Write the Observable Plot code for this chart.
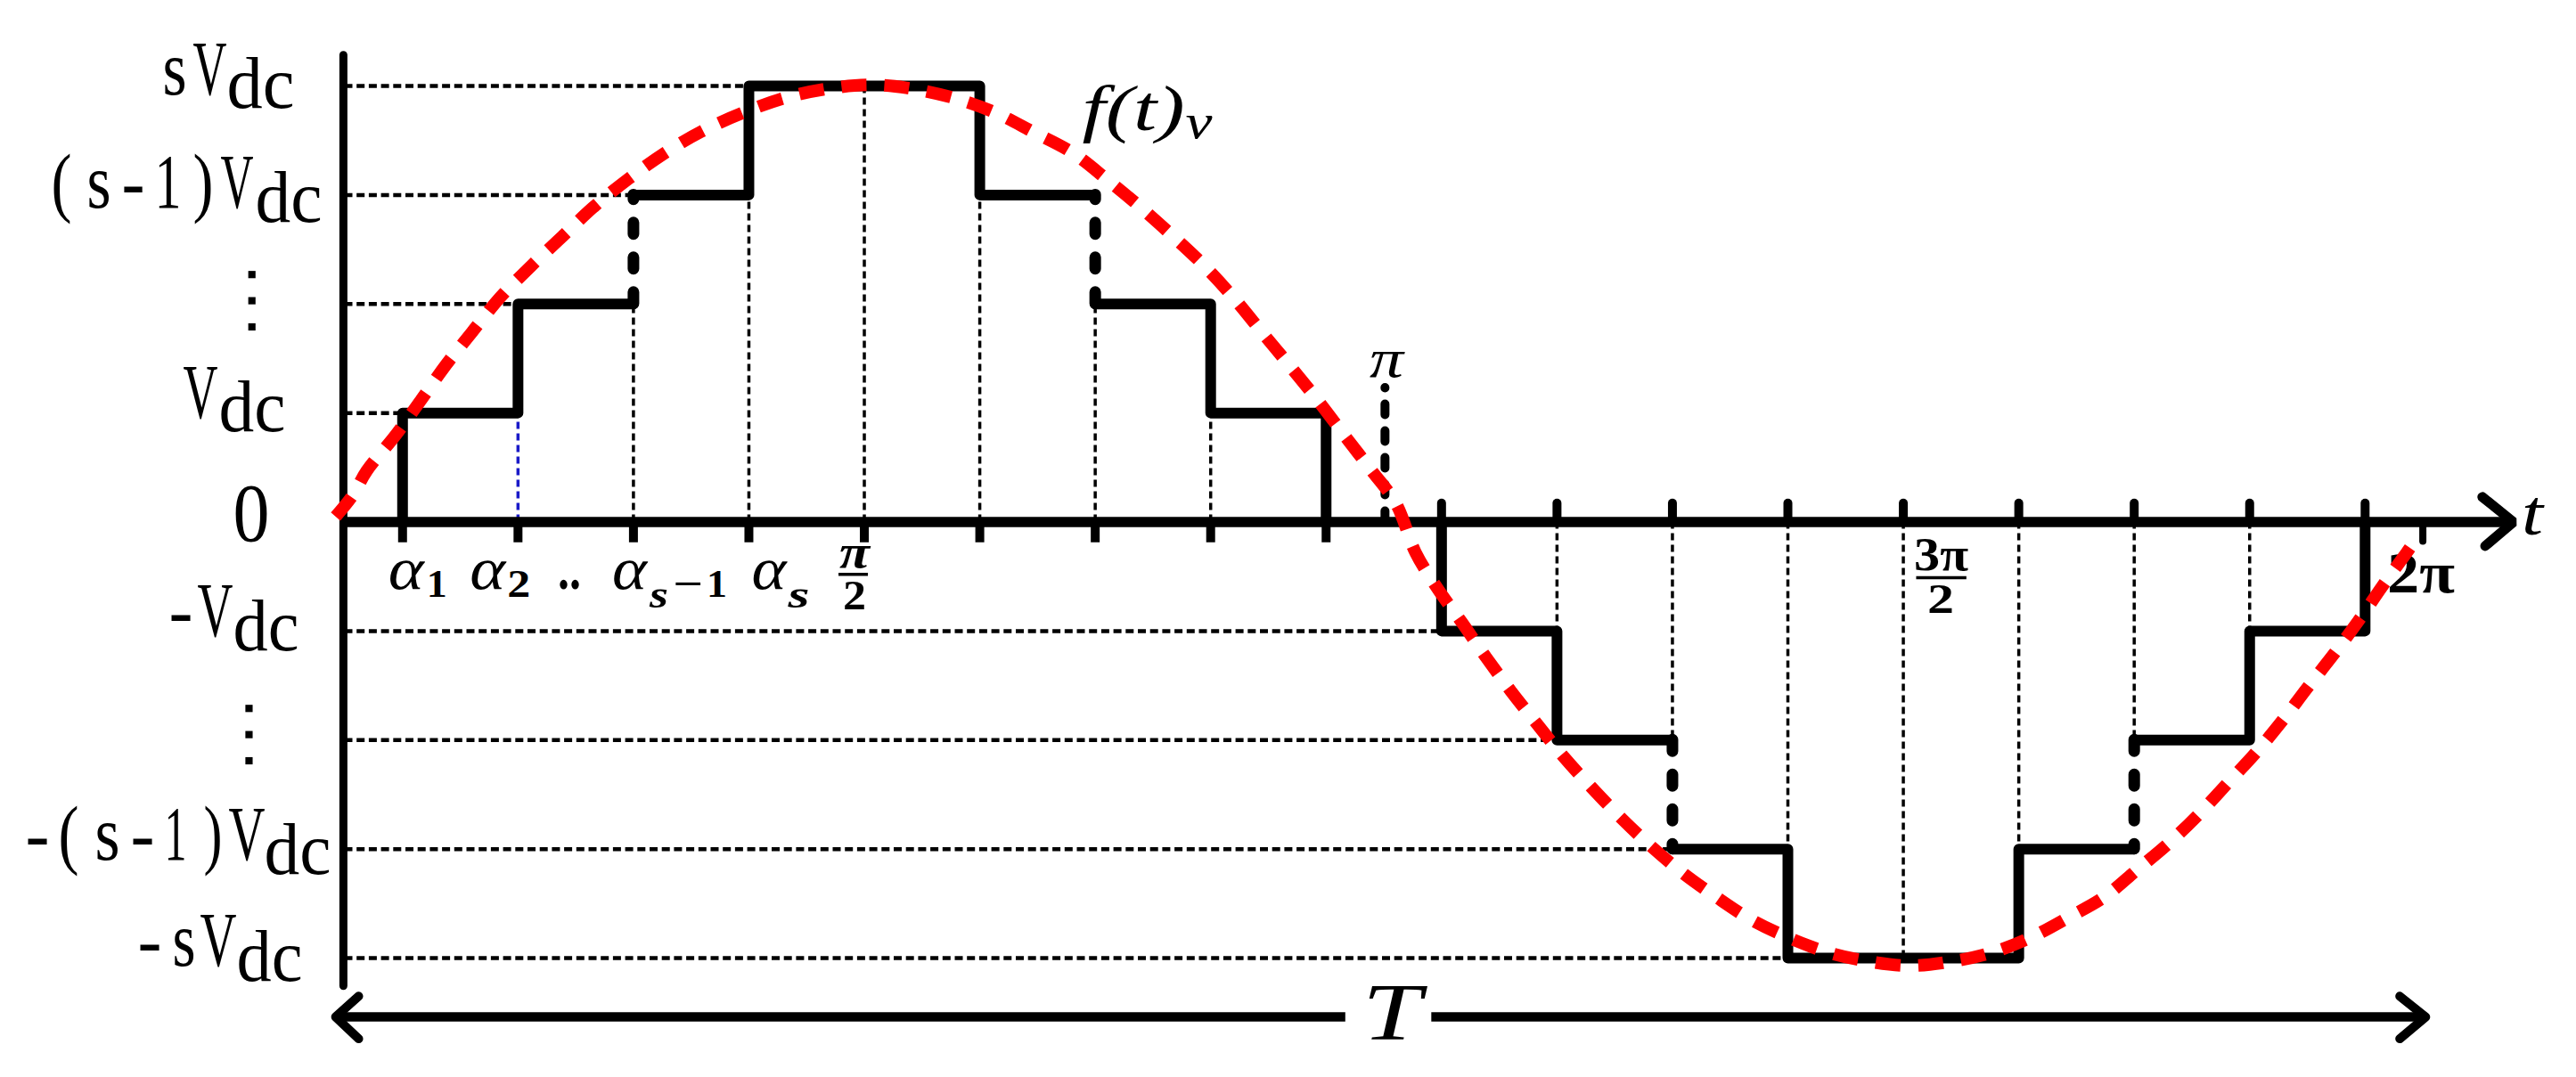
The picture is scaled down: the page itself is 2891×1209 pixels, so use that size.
<!DOCTYPE html>
<html>
<head>
<meta charset="utf-8">
<script src="https://cdn.jsdelivr.net/npm/d3@7"></script>
<script src="https://cdn.jsdelivr.net/npm/@observablehq/plot@0.6"></script>
<style>
html,body{margin:0;padding:0;background:#fff;overflow:hidden}
svg{display:block}
</style>
</head>
<body>
<div id="chart"></div>
<script>
// ---- data (t in degrees of the wave, v in units of Vdc) ----
const ticksBelow = [10,30,50,70,90,110,130,150,170];
const ticksAbove = [190,210,230,250,270,290,310,330,350];
const guideLevelsH = [4,3,2,1,-1,-2,-3,-4];
const guideEndsH = [70,50,30,10,190,210,230,250];
const guideT = [50,70,90,110,130,150,210,230,250,270,290,310,330];
const guideLevelV = [2,3,4,3,2,1,-1,-2,-3,-4,-3,-2,-1];
const stepSeg = [0,0,0,0,0, 1,1,1,1,1,1, 2,2,2,2,2, 3,3,3,3,3, 4,4,4,4,4,4, 5,5,5,5,5];
const stepT = [10,10,30,30,50, 50,70,70,110,110,130, 130,150,150,170,170, 190,190,210,210,230, 230,250,250,290,290,310, 310,330,330,350,350];
const stepV = [0,1,1,2,2, 3,3,4,4,3,3, 2,2,1,1,0, 0,-1,-1,-2,-2, -3,-3,-4,-4,-3,-3, -2,-2,-1,-1,0];
const dashedT = [50,130,230,310];
const dashedFrom = [2,2,-2,-2];
const dashedTo = [3,3,-3,-3];
const curveT = [-1.6,1.3,3.8,8.7,13.2,17.5,22,26.9,32.3,37.7,43.1,49.2,55.3,61.7,68.8,76.2,83.1,90.7,97.6,105.5,112.5,119.2,126,132.1,137.8,143.5,148.9,154.1,158.9,163.6,168.5,173.1,177.6,182.1,185.5,189.3,193.5,197.7,202,206.5,211.1,215.9,221,226.2,231.8,237.6,243.7,250,257.1,263.9,271.1,278.5,285.3,292.1,298.5,304.8,310.5,315.9,321.2,326.1,331,335.7,340,344.6,348.8,353.1,357.2,358.4];
const curveV = [0.05,0.24,0.47,0.79,1.12,1.44,1.74,2.06,2.35,2.62,2.89,3.15,3.38,3.58,3.75,3.89,3.97,4.01,3.98,3.89,3.76,3.58,3.39,3.14,2.89,2.62,2.35,2.05,1.74,1.44,1.12,0.8,0.49,0.17,-0.28,-0.61,-0.92,-1.24,-1.55,-1.85,-2.15,-2.43,-2.71,-2.97,-3.22,-3.44,-3.65,-3.81,-3.95,-4.03,-4.07,-4.03,-3.95,-3.81,-3.63,-3.44,-3.19,-2.95,-2.68,-2.4,-2.12,-1.82,-1.52,-1.21,-0.91,-0.58,-0.28,-0.19];
const arrowHeadT = [370.3,375.7,370.8];
const arrowHeadV = [0.23,0,-0.22];
const spanLeftT = [-1.6,173.4];
const spanRightT = [188.3,360.5];
const spanV = -4.54;
const spanHeadLeftT = [2.4,-1.6,2.4];
const spanHeadRightT = [356,360.5,356];
const spanHeadV = [-4.35,-4.54,-4.74];
const dotsUpV = [2.27,2.03,1.79];
const dotsDownV = [-1.71,-1.95,-2.19];

const SERIF = "Liberation Serif";
const table = (xs, ys) => xs.map((x,i)=>({x, y: ys[i]}));

// squeezes a text to a measured width
const fit = w => (index, scales, values, dims, ctx, next) => {
  const g = next(index, scales, values, dims, ctx);
  g.querySelectorAll("text").forEach(t => {
    t.setAttribute("textLength", w);
    t.setAttribute("lengthAdjust", "spacingAndGlyphs");
  });
  return g;
};
const base = (size, w, style, weight) => ({
  text: d => d, fontFamily: SERIF, fontSize: size, fontStyle: style || "normal",
  fontWeight: weight || 400, fill: "#000", textAnchor: "start", lineAnchor: "bottom",
  render: fit(w)
});
// label tied to a level of the y scale, left edge measured from the frame
const onLevel = (str, level, left, dy, size, w) =>
  Plot.text([str], {...base(size, w), y: () => level, frameAnchor: "left", dx: left, dy});
// label tied to a point of both scales
const atTick = (str, t, dx, dy, size, w, style, weight) =>
  Plot.text([str], {...base(size, w, style, weight), x: () => t, y: () => 0, dx, dy});

const F = 86, D = 82;
const labelMarks = [
  // sVdc
  onLevel("s",4,182,9,F,27), onLevel("V",4,216,9,F,38), onLevel("dc",4,254,24,D,76),
  // (s-1)Vdc
  onLevel("(",3,57,14,F,23), onLevel("s",3,97,14,F,27), onLevel("-",3,136,14,F,26),
  onLevel("1",3,173,14,F,30), onLevel(")",3,216,14,F,23),
  onLevel("V",3,247,14,F,37), onLevel("dc",3,286,30,D,75),
  // Vdc
  onLevel("V",1,205,5,F,39), onLevel("dc",1,245,20,D,75),
  // 0
  onLevel("0",0,261,21,93,41),
  // -Vdc
  onLevel("-",-1,189,6,F,27), onLevel("V",-1,221,6,F,40), onLevel("dc",-1,261,22,D,74),
  // -(s-1)Vdc
  onLevel("-",-3,28,12,F,27), onLevel("(",-3,65,12,F,23), onLevel("s",-3,106,12,F,28),
  onLevel("-",-3,146,12,F,27), onLevel("1",-3,184,12,F,25), onLevel(")",-3,228,12,F,21),
  onLevel("V",-3,256,12,F,41), onLevel("dc",-3,296,28,D,75),
  // -sVdc
  onLevel("-",-4,154,8,F,27), onLevel("s",-4,193,8,F,26), onLevel("V",-4,224,8,F,41), onLevel("dc",-4,265,25,D,74),
  // alpha labels
  atTick("α",10,-16,75,68,40,"italic"), atTick("1",10,27,84,44,23,"normal",700),
  atTick("α",30,-54,75,68,40,"italic"), atTick("2",30,-12,84,44,26,"normal",700),
  atTick("..",40,-20,75,66,26,"normal",700),
  atTick("α",50,-24,75,68,39,"italic"), atTick("s",50,18,96,44,21,"italic",700),
  atTick("−",50,44,84,44,34,"normal",700), atTick("1",50,82,84,44,23,"normal",700),
  atTick("α",70,3,75,68,39,"italic"), atTick("s",70,44,96,44,24,"italic",700),
  // pi/2
  atTick("π",90,-28,51,52,34,"italic",700), atTick("2",90,-24,98,46,26,"normal",700),
  // pi
  atTick("π",180,-16,-163,62,38,"italic"),
  // 3pi/2
  atTick("3π",270,12,54,52,61,"normal",700), atTick("2",270,27,102,46,30,"normal",700),
  // 2pi
  atTick("2π",360,-40,79,66,76,"normal",700),
  // t, f(t)v, T
  atTick("t",360,111,14,72,24,"italic"),
  atTick("f(t)",110,1214-1099.1,-440,72,115,"italic"),
  atTick("v",110,1330-1099.1,-431,54,30,"italic"),
  atTick("T",180,-24,581,90,66,"italic")
];

const chart = Plot.plot({
  width: 2891,
  height: 1209,
  margin: 0,
  style: {background: "#fff"},
  x: {domain: [0,360], range: [386.5,2718.6], axis: null},
  y: {domain: [-4,4], range: [1075,96], axis: null},
  marks: [
    // dotted guides
    Plot.ruleY(guideLevelsH, {x1: 0, x2: (d,i) => guideEndsH[i], stroke: "#000", strokeWidth: 4.5, strokeDasharray: "9,4.7"}),
    Plot.ruleX(guideT, {y1: 0, y2: (d,i) => guideLevelV[i], stroke: "#000", strokeWidth: 3.5, strokeDasharray: "8,5"}),
    Plot.ruleX([30], {y1: 0, y2: 1, stroke: "#1a1ac8", strokeWidth: 3.5, strokeDasharray: "8,5"}),
    // axis ticks
    Plot.ruleX(ticksBelow, {y1: 0, y2: -0.19, stroke: "#000", strokeWidth: 10}),
    Plot.ruleX(ticksAbove, {y1: 0, y2: 0.17, stroke: "#000", strokeWidth: 10, strokeLinecap: "round"}),
    Plot.ruleX([360], {y1: 0, y2: -0.18, stroke: "#000", strokeWidth: 8, strokeLinecap: "round"}),
    // axes
    Plot.ruleX([-0.25], {y1: -4.26, y2: 4.28, stroke: "#000", strokeWidth: 9, strokeLinecap: "round"}),
    Plot.ruleY([0], {x1: -0.25, x2: 375, stroke: "#000", strokeWidth: 11.5}),
    Plot.line(table(arrowHeadT, arrowHeadV), {x: "x", y: "y", stroke: "#000", strokeWidth: 11, strokeLinecap: "round", strokeLinejoin: "miter"}),
    // staircase
    Plot.line(stepT.map((t,i)=>({t, v: stepV[i], s: stepSeg[i]})), {x: "t", y: "v", z: "s", stroke: "#000", strokeWidth: 12, strokeLinejoin: "round", strokeLinecap: "round"}),
    Plot.ruleX(dashedT, {y1: (d,i) => dashedFrom[i], y2: (d,i) => dashedTo[i], stroke: "#000", strokeWidth: 13, strokeLinecap: "round", strokeDasharray: "13,26"}),
    // pi marker
    Plot.ruleX([180.2], {y1: 0, y2: 1.23, stroke: "#000", strokeWidth: 10, strokeLinecap: "round", strokeDasharray: "12,18"}),
    // T span
    Plot.ruleY([spanV], {x1: spanLeftT[0], x2: spanLeftT[1], stroke: "#000", strokeWidth: 10.5}),
    Plot.ruleY([spanV], {x1: spanRightT[0], x2: spanRightT[1], stroke: "#000", strokeWidth: 10.5}),
    Plot.line(table(spanHeadLeftT, spanHeadV), {x: "x", y: "y", stroke: "#000", strokeWidth: 10, strokeLinecap: "round"}),
    Plot.line(table(spanHeadRightT, spanHeadV), {x: "x", y: "y", stroke: "#000", strokeWidth: 10, strokeLinecap: "round"}),
    // ellipsis dots
    Plot.dot(dotsUpV, {x: () => -16.1, y: d => d, symbol: "square", r: 4.6, fill: "#000"}),
    Plot.dot(dotsDownV, {x: () => -16.6, y: d => d, symbol: "square", r: 4.6, fill: "#000"}),
    // fraction bars
    Plot.ruleY([-0.48], {x1: 85.6, x2: 90.7, stroke: "#000", strokeWidth: 3.5}),
    Plot.ruleY([-0.51], {x1: 272.3, x2: 281, stroke: "#000", strokeWidth: 3.5}),
    // labels
    ...labelMarks,
    // red dashed wave
    Plot.line(table(curveT, curveV), {x: "x", y: "y", curve: "catmull-rom", stroke: "#ff0000", strokeWidth: 14, strokeLinecap: "butt", strokeLinejoin: "miter", strokeDasharray: "28,20"})
  ]
});
document.getElementById("chart").append(chart);
</script>
</body>
</html>
